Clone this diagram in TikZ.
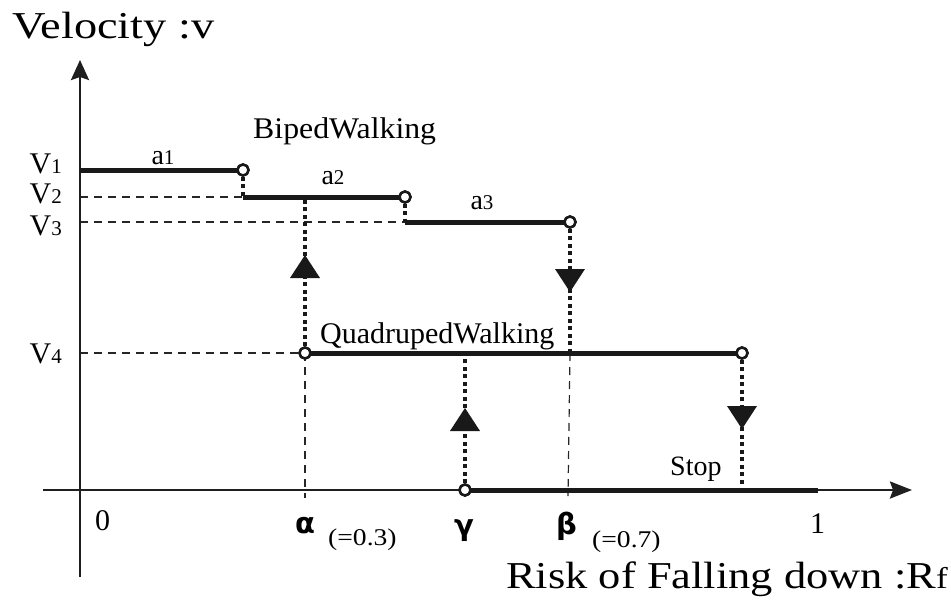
\documentclass[tikz,border=0pt]{standalone}
\usepackage{fontspec}
\usepackage{graphicx}
\setmainfont{Liberation Serif}
\newfontfamily\grkfont{DejaVu Sans}
\usetikzlibrary{arrows.meta}
\newcommand{\smn}[1]{{\fontsize{21}{21}\selectfont #1}}
\begin{document}
\begin{tikzpicture}[x=1pt,y=-1pt,
  axis/.style={line width=2.6pt, draw=black!88},
  seg/.style={line width=5pt, draw=black!90},
  guide/.style={line width=1.2pt, draw=black!85, dash pattern=on 8pt off 6pt},
  trans/.style={line width=4.5pt, draw=black!90, dash pattern=on 4pt off 3.5pt},
  opendot/.style={circle, draw=black!90, line width=2.5pt, fill=white, inner sep=0pt, minimum size=11pt},
  lbl/.style={inner sep=0pt, font=\fontsize{30}{30}\selectfont},
  small/.style={inner sep=0pt, font=\fontsize{28}{28}\selectfont},
  grk/.style={inner sep=0pt, font=\grkfont\bfseries\fontsize{29}{29}\selectfont},
  uptri/.pic={\fill[black!90] (0,0) -- (-15,23) -- (15,23) -- cycle;},
  dntri/.pic={\fill[black!90] (0,0) -- (-15,-23) -- (15,-23) -- cycle;}
]
\useasboundingbox (0,0) rectangle (951,606);

% coordinates
\coordinate (ytop) at (80,60);
\coordinate (ybot) at (80,577);
\coordinate (xleft) at (43,490);
\coordinate (xright) at (912,490);
\coordinate (v1s) at (80,170);
\coordinate (v2s) at (80,197);
\coordinate (v3s) at (80,222);
\coordinate (v4s) at (80,353);
\coordinate (a2s) at (243,197);
\coordinate (a3s) at (405,222);
\coordinate (alphatop) at (305,197);
\coordinate (alphaaxis) at (305,498);
\coordinate (betabot) at (570,353);
\coordinate (betaaxis) at (568,496);
\coordinate (gammatop) at (465,356);
\coordinate (c4bot) at (742,486);
\coordinate (stopend) at (818,490);

% circles (positions)
\node[opendot] (c1) at (243,170) {};
\node[opendot] (c2) at (405,197) {};
\node[opendot] (c3) at (570,222) {};
\node[opendot] (calpha) at (305,353) {};
\node[opendot] (c4) at (742,353) {};
\node[opendot] (cgamma) at (465,490) {};

% guide lines
\draw[guide] (v2s) -- (a2s);
\draw[guide] (v3s) -- (a3s);
\draw[guide] (v4s) -- (calpha.center);
\draw[guide] (calpha.center) -- (alphaaxis);
\draw[guide] (betabot) -- (betaaxis);

% axes
\draw[axis, -{Stealth[length=20pt,width=18pt,inset=3pt]}] (ybot) -- (ytop);
\draw[axis, -{Stealth[length=22pt,width=17pt,inset=3pt]}] (xleft) -- (xright);

% transitions (dotted)
\draw[trans] (c1) -- (a2s);
\draw[trans] (c2) -- (a3s);
\draw[trans] (calpha) -- (alphatop);
\draw[trans] (c3) -- (betabot);
\draw[trans] (cgamma) -- (gammatop);
\draw[trans] (c4) -- (c4bot);

% level segments
\draw[seg] (v1s) -- (c1.center);
\draw[seg] (a2s) -- (c2.center);
\draw[seg] (a3s) -- (c3.center);
\draw[seg] (calpha.center) -- (c4.center);
\draw[seg] (cgamma.center) -- (stopend);

% triangles
\pic at (305,255) {uptri};
\pic at (570,292) {dntri};
\pic at (465,408) {uptri};
\pic at (742,429) {dntri};

% redraw circles on top
\node[opendot] at (c1) {};
\node[opendot] at (c2) {};
\node[opendot] at (c3) {};
\node[opendot] at (calpha) {};
\node[opendot] at (c4) {};
\node[opendot] at (cgamma) {};

% labels
\node[inner sep=0pt, anchor=base west] (vel) at (12,38)
  {\scalebox{1.22}[1]{\fontsize{38}{38}\selectfont Velocity :v}};
\node[inner sep=0pt, anchor=base east] (risk) at (948,588)
  {\scalebox{1.17}[1]{\fontsize{38}{38}\selectfont Risk of Falling down :R{\fontsize{30}{30}\selectfont f}}};

\node[lbl, anchor=base east] (lv1) at (62,173) {V\smn{1}};
\node[lbl, anchor=base east] (lv2) at (62,203) {V\smn{2}};
\node[lbl, anchor=base east] (lv3) at (62,235) {V\smn{3}};
\node[lbl, anchor=base east] (lv4) at (62,363) {V\smn{4}};

\node[small, anchor=base] (la1) at (163,164) {a\smn{1}};
\node[small, anchor=base] (la2) at (333,184) {a\smn{2}};
\node[small, anchor=base] (la3) at (482,209) {a\smn{3}};

\node[inner sep=0pt, anchor=base west] (biped) at (253,138)
  {\scalebox{1.06}[1]{\fontsize{30}{30}\selectfont BipedWalking}};
\node[lbl, anchor=base west] (quad) at (320,343) {QuadrupedWalking};
\node[small, anchor=base west] (stop) at (670,475) {Stop};

\node[lbl, anchor=base west] (zero) at (95,530) {0};
\node[lbl, anchor=base west] (one) at (810,533) {1};

\node[grk, anchor=base west] (alpha) at (295,533) {α};
\node[grk, anchor=base west] (gamma) at (454,535) {γ};
\node[grk, anchor=base west] (beta) at (556,534) {β};
\node[inner sep=0pt, anchor=base west] (eq3) at (328,545)
  {\scalebox{1.15}[1]{\fontsize{24}{24}\selectfont (=0.3)}};
\node[inner sep=0pt, anchor=base west] (eq7) at (592,547)
  {\scalebox{1.15}[1]{\fontsize{24}{24}\selectfont (=0.7)}};
\end{tikzpicture}
\end{document}
